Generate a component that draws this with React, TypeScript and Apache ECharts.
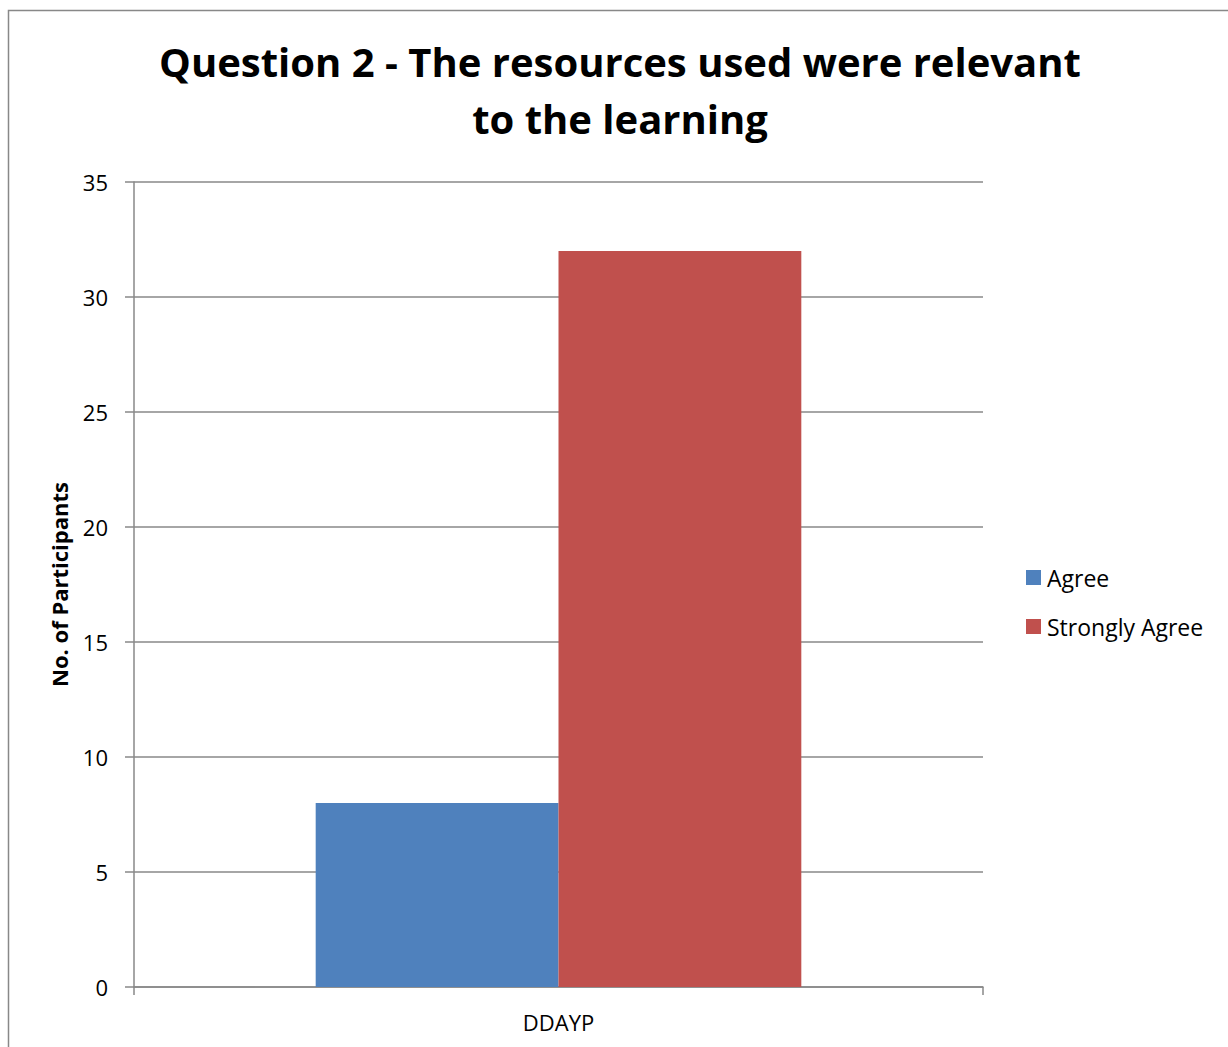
import React, { useEffect, useRef } from "react";
import * as echarts from "echarts";

const categories = ["DDAYP"];
const seriesNames = ["Agree", "Strongly Agree"];
const agreeValues = [8];
const stronglyAgreeValues = [32];
const seriesColors = ["#4F81BD", "#C0504D"];
const titleLines = ["Question 2 - The resources used were relevant", "to the learning"];

const FONT = "'Open Sans', sans-serif";
const GRAY = "#888888";

export default function App() {
  const ref = useRef<HTMLDivElement>(null);

  useEffect(() => {
    if (!ref.current) return;
    const chart = echarts.init(ref.current, undefined, { renderer: "svg" });
    chart.setOption({
      animation: false,
      backgroundColor: "#ffffff",
      textStyle: { fontFamily: FONT, color: "#000" },
      graphic: [
        {
          type: "rect",
          shape: { x: 8.5, y: 10.5, width: 1400, height: 1200 },
          style: { fill: "none", stroke: GRAY, lineWidth: 1.5 },
          silent: true,
        },
        {
          type: "text",
          x: 620,
          y: 90,
          style: {
            text: titleLines.join("\n"),
            fontFamily: FONT,
            fontSize: 40,
            fontWeight: "bold",
            lineHeight: 57,
            fill: "#000",
            align: "center",
            verticalAlign: "middle",
          },
        },
      ],
      legend: {
        orient: "vertical",
        left: 1026,
        top: 566,
        padding: 0,
        itemWidth: 15,
        itemHeight: 15,
        itemGap: 26,
        icon: "rect",
        textStyle: { fontFamily: FONT, fontSize: 23, color: "#000", padding: [0, 0, 0, 1] },
        data: seriesNames,
      },
      grid: { left: 134, right: 245, top: 182, bottom: 60, containLabel: false },
      xAxis: {
        type: "category",
        data: categories,
        axisLine: { lineStyle: { color: GRAY, width: 1.5 } },
        axisTick: { show: true, length: 8, lineStyle: { color: GRAY, width: 1.5 } },
        axisLabel: { fontFamily: FONT, fontSize: 22, color: "#000", margin: 24 },
      },
      yAxis: {
        type: "value",
        min: 0,
        max: 35,
        interval: 5,
        name: "No. of Participants",
        nameLocation: "middle",
        nameGap: 64,
        nameTextStyle: { fontFamily: FONT, fontSize: 22, fontWeight: "bold", color: "#000" },
        axisLine: { show: true, lineStyle: { color: GRAY, width: 1.5 } },
        axisTick: { show: true, length: 9, lineStyle: { color: GRAY, width: 1.5 } },
        axisLabel: { fontFamily: FONT, fontSize: 22, color: "#000", margin: 26 },
        splitLine: { lineStyle: { color: GRAY, width: 1.5 } },
      },
      series: [
        {
          name: seriesNames[0],
          type: "bar",
          data: agreeValues,
          itemStyle: { color: seriesColors[0] },
          barGap: "0%",
          barCategoryGap: "42.8%",
        },
        {
          name: seriesNames[1],
          type: "bar",
          data: stronglyAgreeValues,
          itemStyle: { color: seriesColors[1] },
          barGap: "0%",
          barCategoryGap: "42.8%",
        },
      ],
    });
    return () => chart.dispose();
  }, []);

  return (
    <div
      ref={ref}
      style={{ position: "fixed", left: 0, top: 0, width: 1228, height: 1047 }}
    />
  );
}
